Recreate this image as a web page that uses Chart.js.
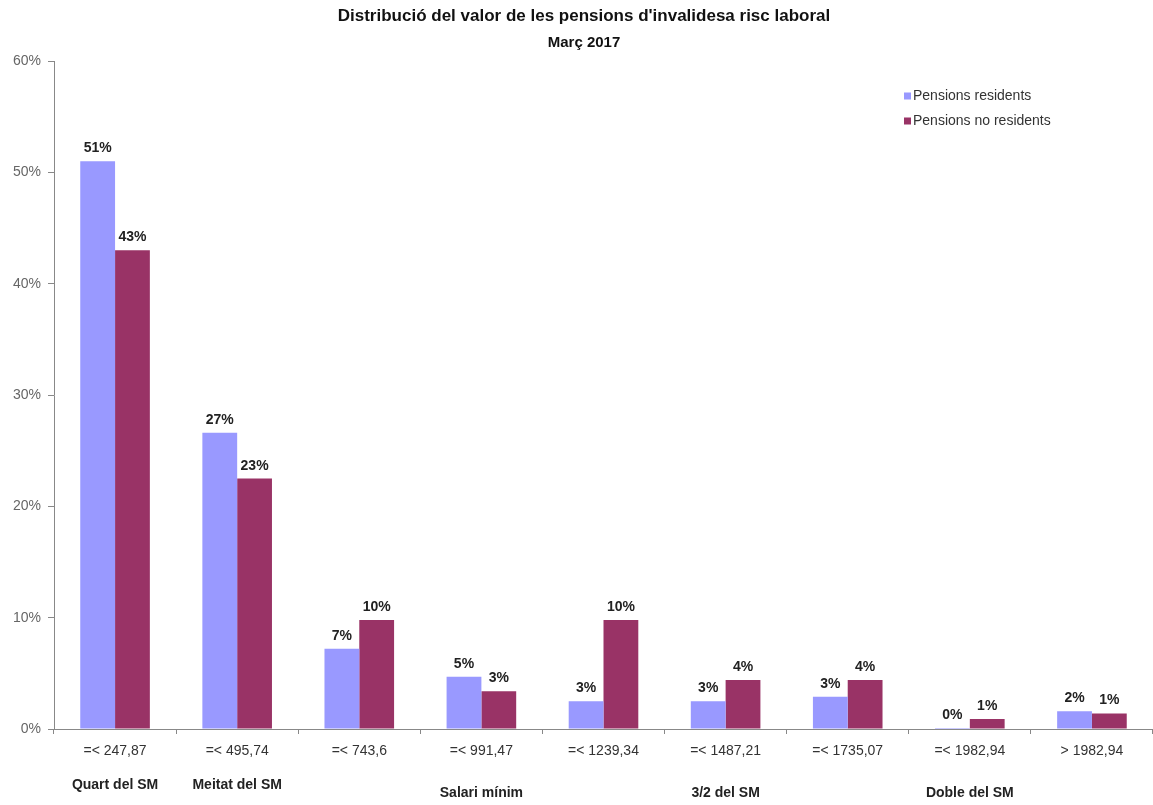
<!DOCTYPE html>
<html lang="ca">

<head>
    <meta charset="UTF-8">
    <title>Distribució del valor de les pensions d'invalidesa risc laboral</title>
    <script src="https://cdn.jsdelivr.net/npm/chart.js"></script>
    <style>
        * {
            box-sizing: border-box;
            margin: 0;
            padding: 0;
        }

        body {
            background: #fff;
        }

        .wrap {
            position: relative;
            width: 1153px;
            height: 805px;
        }
    </style>
</head>

<body>
    <div class="wrap">
        <canvas id="pensionsChart"></canvas>
    </div>

    <script>
        // data (March 2017)
        const trams = ['=< 247,87', '=< 495,74', '=< 743,6', '=< 991,47', '=< 1239,34',
            '=< 1487,21', '=< 1735,07', '=< 1982,94', '> 1982,94'];
        const residents = [51.0, 26.6, 7.2, 4.7, 2.5, 2.5, 2.9, 0.1, 1.6];
        const noResidents = [43.0, 22.5, 9.8, 3.4, 9.8, 4.4, 4.4, 0.9, 1.4];
        const seriesNames = ['Pensions residents', 'Pensions no residents'];
        const groupLabels = ['Quart del SM', 'Meitat del SM', 'Salari mínim', '3/2 del SM', 'Doble del SM'];
        const groupAt = [0, 1, 3, 5, 7];
        const yTicks = [0, 10, 20, 30, 40, 50, 60];
        const titleLines = ["Distribució del valor de les pensions d'invalidesa risc laboral", 'Març 2017'];

        const FONT = "'Liberation Sans', Arial, sans-serif";

        // titles, legend, value labels and SM group labels
        const extras = {
            id: 'extras',
            afterDraw(chart) {
                const { ctx, chartArea } = chart;
                ctx.save();

                ctx.fillStyle = '#111';
                ctx.textAlign = 'center';
                ctx.textBaseline = 'middle';
                ctx.font = 'bold 17px ' + FONT;
                ctx.fillText(titleLines[0], 584, 16);
                ctx.font = 'bold 15px ' + FONT;
                ctx.fillText(titleLines[1], 584, 43);

                // legend
                ctx.textAlign = 'left';
                ctx.font = '14px ' + FONT;
                chart.data.datasets.forEach((ds, i) => {
                    const y = 96 + i * 25;
                    ctx.fillStyle = ds.backgroundColor;
                    ctx.fillRect(chartArea.right - 249, y - 3.5, 7, 7);
                    ctx.fillStyle = '#333';
                    ctx.fillText(ds.label, chartArea.right - 240, y);
                });

                // value labels
                ctx.textAlign = 'center';
                ctx.textBaseline = 'alphabetic';
                ctx.font = 'bold 14px ' + FONT;
                ctx.fillStyle = '#222';
                chart.data.datasets.forEach((ds, i) => {
                    chart.getDatasetMeta(i).data.forEach((bar, j) => {
                        ctx.fillText(Math.round(ds.data[j]) + '%', bar.x, bar.y - 9);
                    });
                });

                // group labels under the axis
                const x = chart.scales.x;
                ctx.textBaseline = 'middle';
                ctx.fillStyle = '#222';
                groupLabels.forEach((lab, i) => {
                    const idx = groupAt[i];
                    const dy = idx < 2 ? 56 : 64;
                    ctx.fillText(lab, x.getPixelForValue(idx), chartArea.bottom + dy);
                });

                ctx.restore();
            }
        };

        const ctx = document.getElementById('pensionsChart').getContext('2d');

        const chart = new Chart(ctx, {
            type: 'bar',
            data: {
                labels: trams,
                datasets: [{
                    label: seriesNames[0],
                    data: residents,
                    backgroundColor: '#9999FF',
                    categoryPercentage: 0.57,
                    barPercentage: 1
                }, {
                    label: seriesNames[1],
                    data: noResidents,
                    backgroundColor: '#993366',
                    categoryPercentage: 0.57,
                    barPercentage: 1
                }]
            },
            options: {
                responsive: true,
                maintainAspectRatio: false,
                animation: false,
                layout: {
                    padding: { top: 61, right: 0, bottom: 0, left: 0 }
                },
                scales: {
                    x: {
                        afterFit: (s) => { s.height = 76; },
                        grid: {
                            offset: true,
                            drawOnChartArea: false,
                            tickLength: 5,
                            color: '#888'
                        },
                        border: { color: '#888' },
                        ticks: {
                            padding: 9,
                            color: '#333',
                            font: { family: FONT, size: 14 },
                            maxRotation: 0,
                            autoSkip: false
                        }
                    },
                    y: {
                        min: 0,
                        max: 60,
                        afterFit: (s) => { s.width = 54; },
                        afterBuildTicks: (s) => { s.ticks = yTicks.map(v => ({ value: v })); },
                        grid: {
                            drawOnChartArea: false,
                            tickLength: 6,
                            color: '#888'
                        },
                        border: { color: '#888' },
                        ticks: {
                            padding: 7,
                            color: '#666',
                            font: { family: FONT, size: 14 },
                            callback: (v) => v + '%'
                        }
                    }
                },
                plugins: {
                    legend: { display: false },
                    tooltip: { enabled: false }
                }
            },
            plugins: [extras]
        });
    </script>
</body>

</html>
